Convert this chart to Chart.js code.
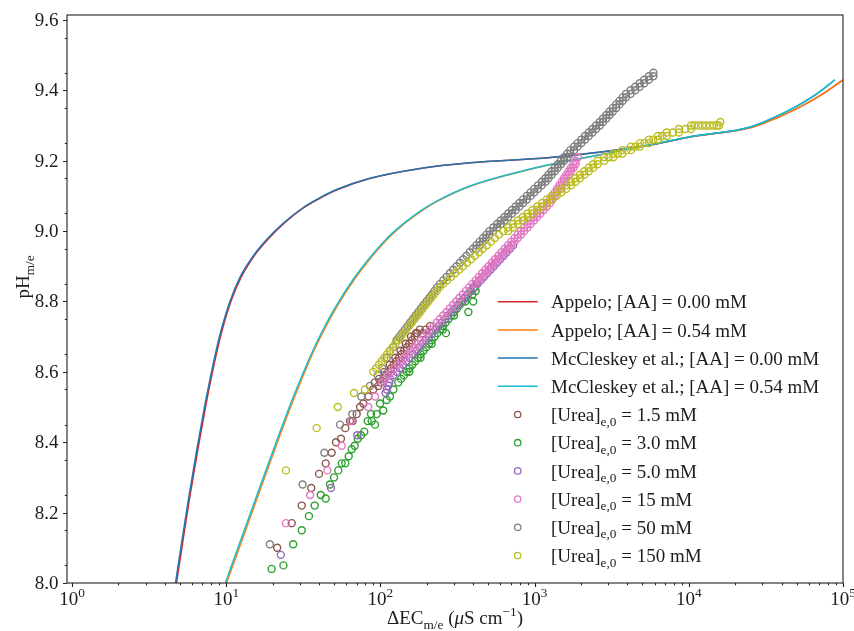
<!DOCTYPE html>
<html>
<head>
<meta charset="utf-8">
<script src="https://cdn.jsdelivr.net/npm/chart.js@4.4.1/dist/chart.umd.min.js"></script>
<style>
  body { margin: 0; background: #fff; }
  canvas { display: block; }
</style>
</head>
<body>
<canvas id="chart" width="854" height="631"></canvas>
<script>
// Model curves (x = ΔEC in µS/cm, y = pH)
const mcX00 = [4.69, 5.17, 5.70, 6.45, 7.29, 8.25, 9.12, 10.6, 12.3, 15.0, 18.3, 23.5, 31.6, 40.6, 52.1, 85.6, 181, 381, 1260, 5330, 10200, 25100, 41000, 52500, 67600, 88700];
const apX00 = [4.76, 5.25, 5.78, 6.55, 7.40, 8.37, 9.25, 10.75, 12.5, 15.2, 18.6, 23.85, 32.0, 41.2, 52.8, 86.5, 182, 384, 1270, 5400, 10400, 26000, 43500, 56500, 74000, 100000];
const modelY00 = [8.00, 8.122, 8.24, 8.38, 8.508, 8.624, 8.706, 8.801, 8.869, 8.93, 8.976, 9.023, 9.067, 9.095, 9.118, 9.15, 9.178, 9.194, 9.209, 9.243, 9.268, 9.296, 9.335, 9.36, 9.39, 9.43];

const mcX054 = [9.87, 12.4, 15.4, 20.8, 26.6, 35.0, 42.6, 52.1, 66.7, 85.6, 110, 141, 181, 232, 381, 1000, 1260, 2500, 5330, 10200, 25100, 41000, 52500, 67600, 88700];
const apX054 = [10.05, 12.65, 15.7, 21.2, 27.1, 35.6, 43.4, 53.0, 67.9, 87.0, 112, 143, 184, 235, 385, 1010, 1270, 2530, 5400, 10400, 26000, 43500, 56500, 74000, 100000];
const modelY054 = [8.00, 8.121, 8.235, 8.393, 8.517, 8.643, 8.721, 8.790, 8.863, 8.925, 8.979, 9.021, 9.057, 9.085, 9.128, 9.179, 9.189, 9.215, 9.243, 9.268, 9.296, 9.335, 9.36, 9.39, 9.43];

// Measurements
const urea1X = [21.4, 26.6, 30.9, 35.6, 40.0, 44.2, 48.3, 51.5, 55.5, 59.2, 63.5, 66.1, 70.2, 73.8, 77.5, 83.5, 89.9, 96.9,
  100.3, 104.3, 108.5, 112.8, 117.3, 122.0, 126.8, 131.9, 137.1, 142.6, 148.3, 154.2, 160.3, 166.7, 173.4, 180.3,
  92, 98, 106, 115, 125, 135, 146, 158, 170, 188, 196, 210];
const urea1Y = [8.10, 8.17, 8.22, 8.27, 8.31, 8.34, 8.37, 8.40, 8.41, 8.44, 8.46, 8.46, 8.48, 8.50, 8.51, 8.53, 8.55, 8.56,
  8.57, 8.58, 8.59, 8.60, 8.61, 8.62, 8.63, 8.64, 8.65, 8.66, 8.67, 8.68, 8.69, 8.70, 8.71, 8.72,
  8.57, 8.58, 8.60, 8.62, 8.64, 8.66, 8.68, 8.70, 8.71, 8.71, 8.72, 8.73];

const urea3X = [19.7, 23.5, 27.2, 30.9, 34.4, 37.5, 41.0, 44.2, 47.1, 50.0, 53.3, 56.1, 59.2, 62.3, 65.2, 68.1, 71.3, 74.9, 78.6, 82.7,
  87.8, 92.3, 86.9, 94.6, 99.4, 104.4, 109.9, 115.4, 121.3, 130.6,
  136.2, 142.0, 148.1, 154.4, 160.9, 167.8, 174.9, 182.4, 190.1, 198.2, 206.6, 215.4, 224.6, 234.1, 244.1, 254.5, 265.3, 276.6,
  288.4, 300.7, 313.5, 326.8, 340.7, 355.2, 370.3, 386.0, 402.6, 419.7,
  154, 182, 215, 254, 266, 300, 355, 372, 395, 400, 410, 415];
const urea3Y = [8.04, 8.05, 8.11, 8.15, 8.19, 8.22, 8.25, 8.24, 8.28, 8.30, 8.32, 8.34, 8.34, 8.36, 8.38, 8.39, 8.41, 8.42, 8.43, 8.46,
  8.46, 8.45, 8.48, 8.48, 8.51, 8.49, 8.52, 8.53, 8.55, 8.57,
  8.58, 8.59, 8.60, 8.61, 8.62, 8.63, 8.64, 8.65, 8.66, 8.67, 8.68, 8.69, 8.70, 8.71, 8.72, 8.73, 8.74, 8.75,
  8.76, 8.77, 8.78, 8.79, 8.80, 8.81, 8.82, 8.83, 8.84, 8.85,
  8.60, 8.64, 8.68, 8.72, 8.71, 8.76, 8.80, 8.77, 8.82, 8.80, 8.84, 8.83];

const urea5X = [22.6, 47.8, 70.8, 108, 110, 112.5, 114,
  115.6, 121.3, 127.3, 133.7, 140.3, 147.2, 154.5, 162.2, 170.2, 178.6, 187.5, 196.8, 206.5, 216.8, 227.4, 238.7,
  250.6, 263.0, 276.0, 289.8, 304.1, 319.2, 334.9, 351.5, 368.9, 387.3, 406.5, 426.7, 447.9, 470.1, 493.3, 517.9,
  543.6, 570.2, 598.4, 628.1, 659.2, 692.0, 726.3];
const urea5Y = [8.08, 8.27, 8.42, 8.54, 8.55, 8.56, 8.57,
  8.58, 8.59, 8.60, 8.61, 8.62, 8.63, 8.64, 8.65, 8.66, 8.67, 8.68, 8.69, 8.70, 8.71, 8.72, 8.73,
  8.74, 8.75, 8.76, 8.77, 8.78, 8.79, 8.80, 8.81, 8.82, 8.83, 8.84, 8.85, 8.86, 8.87, 8.88, 8.89,
  8.90, 8.91, 8.92, 8.93, 8.94, 8.95, 8.96];

const urea15X = [24.4, 35.0, 45.3, 56.1, 64.5, 83.5, 92.3, 102.0,
  107.0, 112.3, 117.9, 123.8, 129.9, 136.3, 143.1, 150.2, 157.6, 165.4, 173.6, 182.2, 191.2, 200.7, 210.6, 221.0,
  232.0, 243.5, 255.6, 268.3, 281.6, 295.6, 310.1, 325.5, 341.6, 358.6, 376.4, 395.1, 414.7, 435.3, 456.8, 479.5,
  503.3, 528.0, 554.1, 581.6, 610.4, 640.7, 672.5, 705.8, 740.8, 777.5, 816.1, 856.5, 898.8, 943.2, 989.7, 1039,
  1090, 1144, 1201, 1260, 1305, 1351, 1399, 1448, 1499, 1552, 1607, 1664, 1723, 1784, 1846, 1911,
  414.7, 435.3, 456.8, 479.5, 503.3, 528.0, 554.1, 581.6, 610.4, 640.7, 672.5, 705.8, 740.8, 777.5, 816.1, 856.5,
  898.8, 943.2, 989.7, 1039, 1090, 1144, 1201, 1260, 1305, 1351, 1399, 1448, 1499, 1552, 1607, 1664, 1723, 1784, 1846];
const urea15Y = [8.17, 8.25, 8.32, 8.39, 8.46, 8.50, 8.53, 8.57,
  8.58, 8.59, 8.60, 8.61, 8.62, 8.63, 8.64, 8.65, 8.66, 8.67, 8.68, 8.69, 8.70, 8.71, 8.72, 8.73,
  8.74, 8.75, 8.76, 8.77, 8.78, 8.79, 8.80, 8.81, 8.82, 8.83, 8.84, 8.85, 8.86, 8.87, 8.88, 8.89,
  8.90, 8.91, 8.92, 8.93, 8.94, 8.95, 8.96, 8.97, 8.98, 8.99, 9.00, 9.01, 9.02, 9.03, 9.04, 9.05,
  9.06, 9.07, 9.08, 9.09, 9.10, 9.11, 9.12, 9.13, 9.14, 9.15, 9.16, 9.17, 9.18, 9.19, 9.20, 9.21,
  8.85, 8.86, 8.87, 8.88, 8.89, 8.90, 8.91, 8.92, 8.93, 8.94, 8.95, 8.96, 8.97, 8.98, 8.99, 9.00,
  9.01, 9.02, 9.03, 9.04, 9.05, 9.06, 9.07, 9.08, 9.09, 9.10, 9.11, 9.12, 9.13, 9.14, 9.15, 9.16, 9.17, 9.18, 9.19];

const urea50X = [19.2, 31.3, 43.3, 54.7, 65.7, 75.2, 85.6, 96, 103, 109.9, 115.4, 121,
  127.3, 132.6, 138.0, 143.9, 149.8, 156.0, 162.4, 169.2, 176.2, 183.3, 190.9, 199.0, 207.2, 215.7, 224.5, 233.7,
  243.7, 255.9, 268.8, 282.4, 296.8, 311.8, 327.5, 344.0, 361.8, 380.0, 399.1, 419.2, 440.7, 462.9, 486.2, 510.6,
  540.2, 570.9, 603.3, 638.2, 674.5, 712.8, 754.2, 797.0, 842.3, 891.0, 941.7, 995.2, 1053, 1113, 1176, 1231,
  1290, 1351, 1415, 1484, 1553, 1627, 1703, 1801, 1903, 2009, 2123, 2245, 2372, 2505, 2645, 2779, 2918, 3064,
  3217, 3383, 3552, 3731, 3917, 4196, 4491, 4805, 5142, 5507, 5892,
  419.2, 440.7, 462.9, 486.2, 510.6, 540.2, 570.9, 603.3, 638.2, 674.5, 712.8, 754.2, 797.0, 842.3, 891.0, 941.7,
  995.2, 1053, 1113, 1176, 1231, 1290, 1351, 1415, 1484, 1553, 1627, 1703, 1801, 1903, 2009, 2123, 2245, 2372,
  2505, 2645, 2779, 2918, 3064, 3217, 3383, 3552, 3731, 3917, 4196, 4491, 4805, 5142, 5507, 5892];
const urea50Y = [8.11, 8.28, 8.37, 8.45, 8.48, 8.53, 8.56, 8.59, 8.61, 8.64, 8.66, 8.67,
  8.69, 8.70, 8.71, 8.72, 8.73, 8.74, 8.75, 8.76, 8.77, 8.78, 8.79, 8.80, 8.81, 8.82, 8.83, 8.84,
  8.85, 8.86, 8.87, 8.88, 8.89, 8.90, 8.91, 8.92, 8.93, 8.94, 8.95, 8.96, 8.97, 8.98, 8.99, 9.00,
  9.01, 9.02, 9.03, 9.04, 9.05, 9.06, 9.07, 9.08, 9.09, 9.10, 9.11, 9.12, 9.13, 9.14, 9.15, 9.16,
  9.17, 9.18, 9.19, 9.20, 9.21, 9.22, 9.23, 9.24, 9.25, 9.26, 9.27, 9.28, 9.29, 9.30, 9.31, 9.32, 9.33, 9.34,
  9.35, 9.36, 9.37, 9.38, 9.39, 9.40, 9.41, 9.42, 9.43, 9.44, 9.45,
  8.95, 8.96, 8.97, 8.98, 8.99, 9.00, 9.01, 9.02, 9.03, 9.04, 9.05, 9.06, 9.07, 9.08, 9.09, 9.10,
  9.11, 9.12, 9.13, 9.14, 9.15, 9.16, 9.17, 9.18, 9.19, 9.20, 9.21, 9.22, 9.23, 9.24, 9.25, 9.26, 9.27, 9.28,
  9.29, 9.30, 9.31, 9.32, 9.33, 9.34, 9.35, 9.36, 9.37, 9.38, 9.39, 9.40, 9.41, 9.42, 9.43, 9.44];

const urea150X = [24.4, 38.6, 52.9, 67.4, 79.4,
  89.9, 93.8, 97.8, 101.8, 106.1, 110.5, 115.2, 120.1, 125.1, 130.3, 135.7, 141.6, 147.4, 153.6, 160.0, 166.7,
  173.9, 181.1, 188.7, 196.5, 204.9, 213.5, 222.4, 231.7, 241.6, 255.5, 271.0, 287.5, 305.3, 323.9, 343.5, 364.4,
  386.9, 410.5, 435.5, 462.0, 490.6, 520.4, 552.0, 586.2, 627, 675, 724, 780, 838, 901, 967, 1041, 1120, 1202,
  1292, 1391, 1494, 1607, 1724, 1841, 1967, 2102, 2245, 2398, 2564, 2833, 3239, 3697, 4225, 4828, 5511, 6298,
  7189, 8626, 10350,
  3030, 3460, 3950, 4510, 5160, 5890, 6730, 7880, 9500, 10870, 11560, 12250, 12940, 13730, 14520, 15220, 15710, 16000,
  675, 724, 780, 838, 901, 967, 1041, 1120, 1202, 1292, 1391, 1494, 1607, 1724, 1841, 1967, 2102, 2245, 2398,
  2564, 2833, 3239, 3697, 4225, 4828, 5511, 6298, 7189, 8626, 10350];
const urea150Y = [8.32, 8.44, 8.50, 8.54, 8.55,
  8.60, 8.61, 8.62, 8.63, 8.64, 8.65, 8.66, 8.67, 8.68, 8.69, 8.70, 8.71, 8.72, 8.73, 8.74, 8.75,
  8.76, 8.77, 8.78, 8.79, 8.80, 8.81, 8.82, 8.83, 8.84, 8.85, 8.86, 8.87, 8.88, 8.89, 8.90, 8.91,
  8.92, 8.93, 8.94, 8.95, 8.96, 8.97, 8.98, 8.99, 9.00, 9.01, 9.02, 9.03, 9.04, 9.05, 9.06, 9.07, 9.08, 9.09,
  9.10, 9.11, 9.12, 9.13, 9.14, 9.15, 9.16, 9.17, 9.18, 9.19, 9.20, 9.21, 9.22, 9.23, 9.24, 9.25, 9.26, 9.27,
  9.28, 9.29, 9.30,
  9.21, 9.22, 9.23, 9.24, 9.25, 9.26, 9.27, 9.28, 9.29, 9.30, 9.30, 9.30, 9.30, 9.30, 9.30, 9.30, 9.30, 9.31,
  9.00, 9.01, 9.02, 9.03, 9.04, 9.05, 9.06, 9.07, 9.08, 9.09, 9.10, 9.11, 9.12, 9.13, 9.14, 9.15, 9.16, 9.17, 9.18,
  9.19, 9.20, 9.21, 9.22, 9.23, 9.24, 9.25, 9.26, 9.27, 9.28, 9.29];

// Labels and ticks
const lineLabels = ['Appelo; [AA] = 0.00 mM', 'Appelo; [AA] = 0.54 mM',
  'McCleskey et al.; [AA] = 0.00 mM', 'McCleskey et al.; [AA] = 0.54 mM'];
const ureaLevels = ['1.5', '3.0', '5.0', '15', '50', '150'];
const yTickValues = [8.0, 8.2, 8.4, 8.6, 8.8, 9.0, 9.2, 9.4, 9.6];
const yTickLabels = ['8.0', '8.2', '8.4', '8.6', '8.8', '9.0', '9.2', '9.4', '9.6'];
const xTickValues = [1, 10, 100, 1000, 10000, 100000];
const xTickExps = ['0', '1', '2', '3', '4', '5'];

const FONT = '"Liberation Serif", "Times New Roman", serif';
const FS = 19;
const ink = '#1c1c1c';

const pts = (xs, ys) => xs.map((v, i) => ({ x: v, y: ys[i] }));

function lineSet(label, xs, ys, color, order) {
  return {
    label, data: pts(xs, ys), showLine: true, borderColor: color, borderWidth: 1.5,
    pointRadius: 0, fill: false, cubicInterpolationMode: 'monotone', order
  };
}
function dotSet(label, xs, ys, color, order) {
  return {
    label, data: pts(xs, ys), showLine: false, borderColor: color, backgroundColor: 'rgba(0,0,0,0)',
    pointRadius: 3.5, pointBorderWidth: 1.4, pointHoverRadius: 3.5, order
  };
}

const datasets = [
  lineSet(lineLabels[0], apX00, modelY00, '#d62728', 10),
  lineSet(lineLabels[1], apX054, modelY054, '#ff7f0e', 9),
  lineSet(lineLabels[2], mcX00, modelY00, '#1f77b4', 8),
  lineSet(lineLabels[3], mcX054, modelY054, '#17becf', 7),
  dotSet(ureaLevels[0], urea1X, urea1Y, '#8c564b', 6),
  dotSet(ureaLevels[1], urea3X, urea3Y, '#2ca02c', 5),
  dotSet(ureaLevels[2], urea5X, urea5Y, '#9467bd', 4),
  dotSet(ureaLevels[3], urea15X, urea15Y, '#e377c2', 3),
  dotSet(ureaLevels[4], urea50X, urea50Y, '#7f7f7f', 2),
  dotSet(ureaLevels[5], urea150X, urea150Y, '#bcbd22', 1)
];

// rich text: parts are [text, kind] with kind '', 'sub', 'sup', 'it'
function partFont(kind, size) {
  const s = (kind === 'sub' || kind === 'sup') ? size * 0.7 : size;
  return (kind === 'it' ? 'italic ' : '') + s + 'px ' + FONT;
}
function richWidth(ctx, parts, size) {
  let w = 0;
  parts.forEach(([t, k]) => { ctx.font = partFont(k, size); w += ctx.measureText(t).width; });
  return w;
}
function drawRich(ctx, parts, x, y, size, align) {
  const w = richWidth(ctx, parts, size);
  let cx = align === 'center' ? x - w / 2 : align === 'right' ? x - w : x;
  ctx.textAlign = 'left';
  ctx.textBaseline = 'alphabetic';
  parts.forEach(([t, k]) => {
    ctx.font = partFont(k, size);
    const dy = k === 'sub' ? size * 0.24 : k === 'sup' ? -size * 0.42 : 0;
    ctx.fillText(t, cx, y + dy);
    cx += ctx.measureText(t).width;
  });
}

const decorations = {
  id: 'decorations',
  afterDraw(chart) {
    const { ctx, chartArea: a } = chart;
    const xs = chart.scales.x, ys = chart.scales.y;
    ctx.save();
    ctx.strokeStyle = '#222';
    ctx.lineWidth = 1.1;
    ctx.strokeRect(a.left, a.top, a.right - a.left, a.bottom - a.top);

    // ticks
    ctx.beginPath();
    xTickValues.forEach(v => {
      const px = Math.round(xs.getPixelForValue(v)) + 0.5;
      ctx.moveTo(px, a.bottom); ctx.lineTo(px, a.bottom + 4);
    });
    for (let d = 0; d < 5; d++) {
      for (let m = 2; m <= 9; m++) {
        const px = Math.round(xs.getPixelForValue(m * Math.pow(10, d))) + 0.5;
        ctx.moveTo(px, a.bottom); ctx.lineTo(px, a.bottom + 2.2);
      }
    }
    yTickValues.forEach(v => {
      const py = Math.round(ys.getPixelForValue(v)) + 0.5;
      ctx.moveTo(a.left, py); ctx.lineTo(a.left - 4, py);
    });
    for (let v = 8.05; v < 9.61; v += 0.1) {
      const py = Math.round(ys.getPixelForValue(v)) + 0.5;
      ctx.moveTo(a.left, py); ctx.lineTo(a.left - 2.2, py);
    }
    ctx.stroke();

    // tick labels
    ctx.fillStyle = ink;
    ctx.font = FS + 'px ' + FONT;
    ctx.textAlign = 'right';
    ctx.textBaseline = 'middle';
    yTickValues.forEach((v, i) => ctx.fillText(yTickLabels[i], a.left - 8.5, ys.getPixelForValue(v) + 1));
    xTickValues.forEach((v, i) => {
      drawRich(ctx, [['10', ''], [xTickExps[i], 'sup']], xs.getPixelForValue(v), a.bottom + 22, FS, 'center');
    });

    // axis titles
    drawRich(ctx, [['ΔEC', ''], ['m/e', 'sub'], [' (', ''], ['μ', 'it'], ['S cm', ''], ['−1', 'sup'], [')', '']],
      (a.left + a.right) / 2, 624, FS, 'center');
    ctx.save();
    ctx.translate(29, 277);
    ctx.rotate(-Math.PI / 2);
    drawRich(ctx, [['pH', ''], ['m/e', 'sub']], 0, 0, FS, 'center');
    ctx.restore();

    // legend
    const lx0 = 497.7, lx1 = 537.7, tx = 551, top = 301.7, step = 28.2;
    chart.data.datasets.forEach((ds, i) => {
      const yy = top + i * step;
      ctx.strokeStyle = ds.borderColor;
      if (ds.showLine) {
        ctx.lineWidth = 1.5;
        ctx.beginPath(); ctx.moveTo(lx0, yy); ctx.lineTo(lx1, yy); ctx.stroke();
        ctx.fillStyle = ink;
        drawRich(ctx, [[ds.label, '']], tx, yy + 6.6, FS, 'left');
      } else {
        ctx.lineWidth = 1.3;
        ctx.beginPath(); ctx.arc((lx0 + lx1) / 2, yy, 3.2, 0, Math.PI * 2); ctx.stroke();
        ctx.fillStyle = ink;
        drawRich(ctx, [['[Urea]', ''], ['e,0', 'sub'], [' = ' + ds.label + ' mM', '']], tx, yy + 6.6, FS, 'left');
      }
    });
    ctx.restore();
  }
};

new Chart(document.getElementById('chart'), {
  type: 'scatter',
  data: { datasets },
  options: {
    responsive: false,
    animation: false,
    layout: { padding: { left: 67, right: 11, top: 15, bottom: 48 } },
    scales: {
      x: { type: 'logarithmic', min: 0.928, max: 100000, display: false },
      y: { type: 'linear', min: 8.0, max: 9.614, display: false }
    },
    plugins: { legend: { display: false }, tooltip: { enabled: false } }
  },
  plugins: [decorations]
});
</script>
</body>
</html>
